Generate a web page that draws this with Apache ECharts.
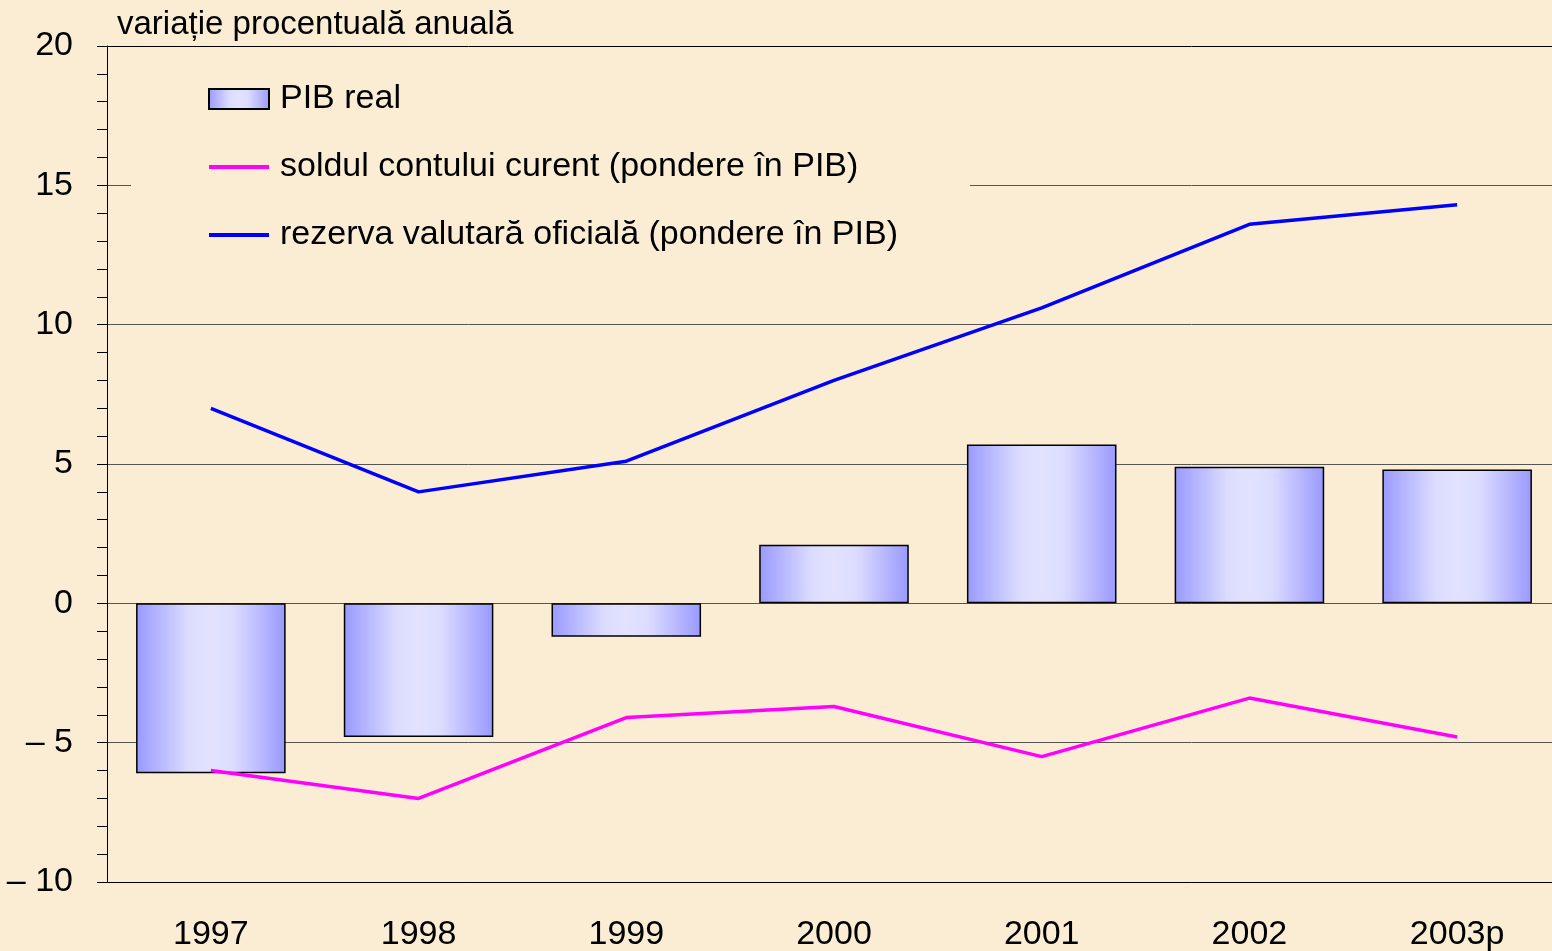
<!DOCTYPE html>
<html><head><meta charset="utf-8">
<script src="https://cdn.jsdelivr.net/npm/echarts@6/dist/echarts.min.js"></script>
<style>html,body{margin:0;padding:0;background:#FAEDD3;}#c{width:1552px;height:951px;}</style>
</head><body><div id="c"></div>
<script>
const categories = ['1997','1998','1999','2000','2001','2002','2003p'];
const pibReal = [-6.1, -4.8, -1.2, 2.1, 5.7, 4.9, 4.8];
const soldCont = [-6.0, -7.0, -4.1, -3.7, -5.5, -3.4, -4.8];
const rezerva = [7.0, 4.0, 5.1, 8.0, 10.6, 13.6, 14.3];
const seriesNames = ['PIB real', 'soldul contului curent (pondere în PIB)', 'rezerva valutară oficială (pondere în PIB)'];
const yTitle = 'variație procentuală anuală';

const font = 'Liberation Sans, Arial, sans-serif';
const chart = echarts.init(document.getElementById('c'));
const barGrad = new echarts.graphic.LinearGradient(0,0,1,0,[
  {offset:0,color:'#9999FF'},{offset:0.35,color:'#DCDCFF'},{offset:0.5,color:'#E2E2FF'},
  {offset:0.65,color:'#DCDCFF'},{offset:1,color:'#9999FF'}]);
chart.setOption({
  backgroundColor:'#FAEDD3',
  animation:false,
  title:{text:yTitle,left:112,top:3,textStyle:{fontFamily:font,fontSize:33,fontWeight:'normal',color:'#000'}},
  grid:{left:107,width:1454,top:46,bottom:69,containLabel:false,outerBoundsMode:'none'},
  legend:{
    orient:'vertical',left:131,top:74,
    padding:[8,72,10,76],
    backgroundColor:'#FAEDD3',
    itemWidth:60,itemHeight:20,itemGap:34,
    textStyle:{fontFamily:font,fontSize:34,color:'#000',padding:[0,0,0,6]},
    data:[
      {name:seriesNames[0],icon:'rect'},
      {name:seriesNames[1],itemStyle:{opacity:0},lineStyle:{width:4}},
      {name:seriesNames[2],itemStyle:{opacity:0},lineStyle:{width:4}}
    ]
  },
  xAxis:{type:'category',data:categories,
    axisLine:{onZero:false,lineStyle:{color:'#000',width:1}},
    axisTick:{show:false},
    axisLabel:{fontFamily:font,fontSize:34,color:'#000',margin:36}},
  yAxis:{type:'value',min:-10,max:20,interval:5,
    axisLine:{show:true,lineStyle:{color:'#000'}},
    axisTick:{show:true,length:10,lineStyle:{color:'#000'}},
    minorTick:{show:true,splitNumber:5,length:10,lineStyle:{color:'#000'}},
    splitLine:{show:true,lineStyle:{color:['#000','#555','#555','#555','#555','#555','#000'],width:1}},
    axisLabel:{fontFamily:font,fontSize:34,color:'#000',margin:34,
      formatter:v=> v<0 ? '\u2013 '+Math.abs(v) : String(v)}},
  series:[
    {name:seriesNames[0],type:'bar',data:pibReal,barCategoryGap:'28%',
     itemStyle:{color:barGrad,borderColor:'#000',borderWidth:1.5},z:2},
    {name:seriesNames[1],type:'line',data:soldCont,symbol:'none',
     lineStyle:{color:'#FF00FF',width:3.5},itemStyle:{color:'#FF00FF'},z:3},
    {name:seriesNames[2],type:'line',data:rezerva,symbol:'none',
     lineStyle:{color:'#0000FF',width:3.5},itemStyle:{color:'#0000FF'},z:3}
  ]
});
</script></body></html>
